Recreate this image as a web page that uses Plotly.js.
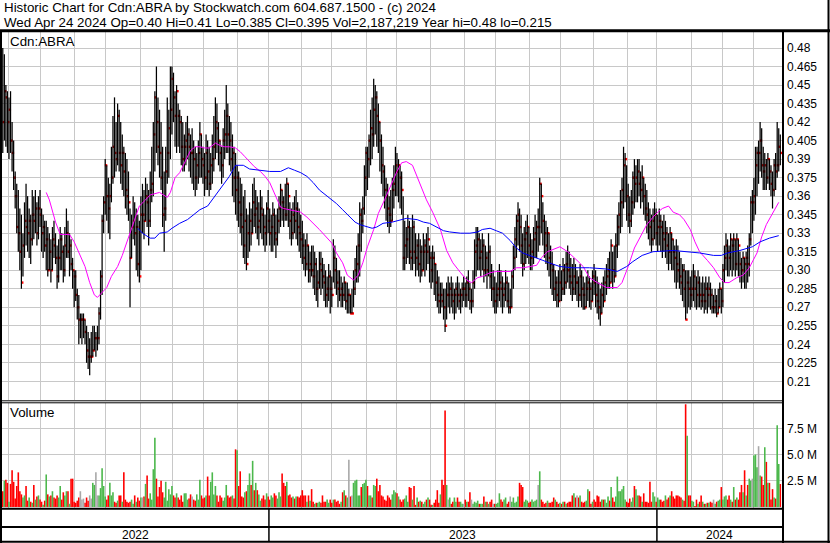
<!DOCTYPE html>
<html><head><meta charset="utf-8">
<script src="https://cdn.plot.ly/plotly-3.0.1.min.js"></script>
<style>html,body{margin:0;padding:0;background:#fff;}#chart{width:830px;height:543px;}</style>
</head><body><div id="chart"></div>
<script>
// ---------------- DATA ----------------
const firstDate = '2022-04-26';
const holidays = ['2022-05-23','2022-07-01','2022-08-01','2022-09-05','2022-10-10','2022-12-26','2022-12-27',
 '2023-01-02','2023-02-20','2023-04-07','2023-05-22','2023-07-03','2023-08-07','2023-09-04','2023-10-09','2023-12-25','2023-12-26',
 '2024-01-01','2024-02-19','2024-03-29'];

const high = [
.480,.475,.450,.445,.440,.445,.420,.405,.380,.370,
.365,.350,.345,.330,.355,.370,.360,.350,.345,.365,
.360,.365,.355,.360,.365,.350,.345,.340,.340,.335,
.330,.325,.335,.340,.330,.320,.325,.335,.330,.320,
.335,.350,.340,.330,.325,.310,.300,.300,.285,.280,
.265,.265,.265,.260,.255,.250,.245,.250,.255,.255,
.250,.255,.270,.300,.345,.360,.390,.385,.375,.370,
.400,.425,.440,.420,.435,.430,.420,.410,.400,.395,
.390,.380,.350,.345,.360,.355,.350,.345,.340,.360,
.370,.365,.375,.370,.365,.380,.400,.420,.445,.465,
.440,.430,.420,.400,.380,.400,.440,.430,.465,.465,
.460,.445,.450,.435,.430,.425,.420,.410,.420,.425,
.415,.410,.415,.405,.400,.395,.405,.420,.410,.400,
.395,.410,.405,.400,.395,.410,.425,.440,.435,.420,
.405,.400,.415,.430,.450,.435,.425,.420,.410,.400,
.395,.385,.380,.375,.370,.360,.365,.350,.345,.355,
.350,.370,.375,.365,.360,.355,.365,.360,.350,.345,
.355,.365,.350,.345,.355,.350,.345,.350,.360,.370,
.365,.360,.370,.375,.370,.355,.350,.355,.360,.365,
.355,.350,.345,.340,.330,.325,.330,.320,.315,.320,
.320,.315,.310,.300,.315,.315,.310,.305,.300,.295,
.305,.300,.295,.325,.320,.310,.300,.300,.295,.290,
.295,.290,.290,.285,.280,.285,.300,.310,.320,.330,
.355,.350,.360,.385,.400,.400,.410,.430,.440,.455,
.450,.445,.435,.420,.410,.400,.385,.375,.370,.360,
.365,.375,.385,.400,.395,.390,.385,.380,.360,.340,
.335,.345,.340,.335,.345,.340,.330,.325,.330,.325,
.320,.330,.325,.330,.335,.320,.315,.320,.315,.305,
.300,.295,.290,.290,.285,.285,.290,.295,.290,.295,
.290,.285,.290,.295,.290,.285,.290,.295,.290,.295,
.300,.290,.285,.300,.325,.335,.335,.330,.325,.330,
.325,.320,.315,.330,.320,.305,.300,.295,.290,.300,
.305,.300,.295,.290,.300,.295,.290,.285,.300,.320,
.335,.345,.355,.350,.345,.330,.335,.340,.345,.335,
.330,.325,.335,.345,.340,.350,.375,.370,.355,.345,
.340,.335,.330,.320,.315,.305,.300,.295,.300,.305,
.300,.310,.305,.315,.320,.315,.310,.305,.310,.305,
.300,.295,.305,.300,.295,.290,.295,.300,.295,.290,
.300,.305,.300,.295,.290,.285,.290,.295,.300,.305,
.310,.315,.325,.315,.320,.330,.345,.355,.365,.375,
.400,.395,.385,.370,.360,.365,.380,.390,.385,.390,
.390,.380,.385,.375,.370,.365,.355,.350,.345,.350,
.355,.350,.345,.350,.345,.340,.345,.340,.335,.330,
.335,.330,.325,.320,.325,.320,.315,.310,.305,.305,
.300,.300,.300,.295,.300,.305,.300,.295,.300,.295,
.290,.295,.290,.295,.290,.295,.290,.285,.280,.285,
.280,.285,.290,.285,.305,.320,.330,.325,.320,.330,
.325,.330,.325,.330,.325,.315,.310,.315,.310,.315,
.320,.330,.360,.365,.375,.400,.400,.405,.420,.415,
.400,.395,.390,.395,.390,.385,.380,.390,.395,.420,
.415,.410];

const low = [
.395,.405,.400,.395,.390,.395,.380,.365,.350,.330,
.315,.300,.285,.295,.310,.320,.315,.310,.305,.320,
.325,.330,.320,.325,.335,.315,.310,.315,.300,.295,
.300,.290,.300,.310,.305,.285,.290,.300,.300,.290,
.295,.310,.310,.295,.300,.285,.270,.275,.260,.240,
.245,.240,.245,.240,.225,.220,.215,.225,.230,.235,
.230,.235,.240,.260,.280,.330,.345,.340,.330,.325,
.355,.370,.375,.380,.385,.380,.370,.365,.360,.350,
.345,.340,.270,.310,.325,.320,.300,.295,.290,.300,
.330,.325,.340,.335,.320,.335,.355,.360,.380,.395,
.385,.375,.365,.335,.315,.340,.370,.375,.390,.410,
.420,.400,.395,.400,.395,.385,.380,.380,.385,.390,
.380,.375,.370,.365,.360,.365,.370,.375,.375,.370,
.360,.365,.365,.360,.365,.370,.380,.390,.395,.385,
.380,.370,.375,.390,.395,.395,.385,.380,.360,.355,
.345,.340,.335,.330,.320,.310,.305,.300,.310,.315,
.320,.330,.335,.330,.325,.320,.330,.325,.320,.315,
.320,.330,.320,.315,.315,.320,.310,.320,.330,.335,
.340,.335,.340,.340,.335,.325,.320,.325,.330,.325,
.320,.315,.310,.305,.300,.295,.300,.290,.290,.295,
.285,.280,.275,.270,.285,.280,.285,.275,.270,.270,
.275,.265,.270,.290,.285,.280,.270,.275,.270,.270,
.275,.268,.265,.265,.265,.265,.270,.280,.290,.290,
.295,.315,.330,.345,.360,.365,.375,.385,.390,.400,
.410,.400,.395,.380,.370,.360,.350,.340,.335,.330,
.335,.340,.350,.360,.360,.355,.350,.345,.300,.300,
.305,.310,.305,.300,.300,.305,.295,.300,.295,.290,
.295,.300,.295,.300,.305,.290,.285,.290,.280,.275,
.270,.265,.265,.270,.260,.250,.260,.270,.265,.270,
.265,.260,.265,.270,.268,.265,.270,.275,.270,.270,
.275,.268,.265,.270,.285,.295,.300,.300,.295,.300,
.290,.295,.285,.295,.285,.275,.270,.265,.265,.270,
.275,.270,.265,.270,.275,.270,.265,.265,.270,.285,
.300,.310,.320,.315,.305,.295,.300,.305,.310,.305,
.300,.300,.305,.310,.310,.315,.320,.330,.320,.310,
.305,.300,.295,.285,.280,.275,.275,.270,.270,.275,
.275,.280,.280,.285,.290,.285,.280,.275,.280,.280,
.275,.270,.275,.270,.268,.268,.270,.275,.270,.268,
.275,.280,.270,.265,.260,.255,.265,.270,.275,.280,
.285,.285,.290,.285,.290,.295,.310,.320,.330,.335,
.350,.355,.340,.335,.330,.335,.345,.350,.355,.355,
.360,.350,.355,.345,.340,.330,.325,.320,.315,.320,
.325,.320,.315,.320,.315,.310,.315,.310,.305,.300,
.305,.300,.300,.290,.285,.290,.285,.280,.275,.270,
.260,.265,.270,.268,.270,.275,.270,.268,.270,.270,
.268,.270,.265,.268,.265,.270,.268,.265,.265,.265,
.262,.265,.270,.265,.270,.290,.300,.295,.295,.300,
.295,.300,.295,.300,.295,.290,.285,.290,.285,.285,
.290,.295,.320,.330,.340,.345,.360,.370,.380,.375,
.365,.365,.365,.370,.365,.360,.350,.360,.365,.375,
.380,.385];

const close = [
.420,.445,.440,.420,.430,.405,.395,.375,.360,.335,
.330,.315,.290,.320,.340,.335,.330,.340,.325,.345,
.340,.350,.330,.350,.345,.330,.335,.320,.325,.300,
.315,.300,.325,.320,.310,.295,.310,.325,.315,.300,
.320,.330,.315,.320,.305,.300,.295,.280,.270,.260,
.260,.260,.260,.250,.235,.230,.230,.230,.235,.245,
.245,.245,.265,.295,.340,.355,.385,.360,.350,.360,
.375,.400,.395,.390,.425,.395,.385,.395,.380,.365,
.360,.355,.310,.335,.340,.330,.335,.305,.295,.345,
.345,.340,.360,.355,.340,.365,.370,.410,.440,.420,
.400,.395,.375,.345,.350,.380,.395,.415,.430,.455,
.440,.425,.445,.425,.420,.400,.390,.400,.405,.410,
.400,.395,.395,.390,.375,.385,.395,.410,.390,.385,
.375,.395,.380,.370,.385,.390,.400,.420,.415,.405,
.395,.385,.405,.410,.425,.410,.405,.390,.395,.375,
.365,.375,.355,.345,.335,.320,.340,.305,.330,.340,
.330,.355,.345,.350,.335,.340,.350,.345,.335,.330,
.350,.340,.330,.335,.345,.330,.325,.340,.350,.365,
.355,.350,.345,.370,.360,.340,.330,.345,.340,.350,
.335,.330,.325,.320,.310,.305,.320,.300,.305,.300,
.295,.305,.285,.290,.305,.300,.295,.290,.280,.285,
.295,.285,.280,.310,.300,.290,.285,.280,.285,.280,
.290,.275,.280,.280,.265,.265,.285,.300,.305,.320,
.345,.340,.350,.375,.395,.390,.405,.415,.410,.430,
.440,.425,.420,.405,.385,.380,.365,.360,.350,.345,
.340,.365,.370,.385,.380,.385,.375,.365,.310,.320,
.325,.335,.315,.310,.335,.315,.310,.320,.305,.315,
.300,.315,.320,.315,.325,.310,.300,.310,.305,.290,
.280,.275,.280,.275,.270,.255,.280,.280,.285,.280,
.275,.280,.285,.280,.275,.280,.285,.285,.280,.290,
.285,.275,.275,.290,.315,.320,.325,.310,.315,.320,
.300,.310,.300,.315,.295,.285,.285,.275,.280,.285,
.290,.285,.280,.285,.290,.275,.270,.270,.295,.310,
.325,.340,.345,.335,.320,.305,.325,.330,.335,.320,
.310,.315,.325,.330,.335,.335,.370,.360,.340,.330,
.320,.330,.310,.305,.300,.285,.290,.280,.275,.290,
.285,.300,.290,.305,.300,.295,.290,.285,.295,.290,
.290,.280,.295,.285,.280,.270,.285,.290,.285,.275,
.295,.290,.280,.275,.270,.265,.280,.275,.290,.295,
.300,.290,.320,.300,.295,.320,.335,.345,.355,.365,
.385,.390,.360,.345,.340,.355,.375,.370,.375,.380,
.370,.365,.375,.360,.350,.345,.340,.335,.325,.340,
.345,.330,.335,.340,.335,.330,.325,.330,.320,.315,
.330,.325,.315,.310,.305,.300,.295,.290,.300,.285,
.260,.290,.285,.280,.285,.295,.285,.280,.290,.280,
.275,.280,.275,.285,.280,.285,.280,.270,.270,.275,
.265,.270,.285,.275,.300,.310,.320,.315,.310,.325,
.320,.325,.305,.325,.320,.305,.300,.310,.305,.310,
.305,.325,.355,.355,.360,.385,.395,.395,.405,.385,
.380,.385,.375,.390,.380,.370,.365,.385,.380,.385,
.400,.395];

// volume, millions of shares
const volumeM = [
1.5,2.5,2.6,2.3,0.5,2.2,3.5,2.4,0.8,2.0, 3.3,1.5,1.2,0.9,1.1,2.0,0.6,0.9,0.5,0.4,
2.1,0.7,1.0,1.1,0.7,0.5,0.2,0.6,3.1,1.2, 1.0,1.1,1.5,0.9,0.8,1.1,0.9,2.0,0.7,1.4,
1.1,1.5,1.5,0.3,2.7,2.7,0.5,0.4,0.6,0.9, 1.5,0.7,0.8,0.4,0.9,0.6,1.1,0.8,2.3,2.1,
3.3,1.1,1.1,1.8,3.7,2.0,1.0,0.7,1.1,2.3, 1.1,1.4,0.5,0.4,0.6,1.1,1.1,0.5,3.3,0.7,
0.5,0.4,0.5,0.7,0.3,1.1,0.5,0.9,0.6,0.9, 0.9,1.0,2.2,3.0,0.8,1.3,0.7,3.6,
6.6,
2.7,1.0,1.9,2.5,1.4,0.9,2.4,0.6,1.7,1.2, 2.0,1.1,0.9,1.3,0.9,0.7,1.1,0.5,1.3,1.3,
0.7,0.8,1.2,1.0,0.7,0.6,1.2,0.7,2.6,1.1, 0.8,0.9,1.1,2.9,1.1,2.4,3.3,1.2,2.0,1.1,
0.5,1.1,0.9,0.6,0.9,2.1,1.1,0.9,1.0,1.1,0.8,
5.5,5.4,
2.0,3.4,1.0,0.9,1.4,1.5,2.1,3.2,2.1,4.4,
1.6,2.3,1.6,1.2,0.6,0.8,1.1,0.7,1.3,1.0,0.7,1.1,0.9,1.3,1.1,0.8,1.4,1.0,3.2,
2.3,2.0,2.4,1.1,1.2,0.9,1.0,0.8,1.0,1.0, 0.9,1.1,1.6,1.1,1.1,0.5,1.1,0.6,1.7,0.5,
0.3,0.4,0.4,0.5,0.4,1.1,0.5,0.5,0.7,0.4, 0.7,0.4,0.7,0.7,0.5,0.6,0.3,0.5,1.4,1.6,
1.1,0.9,
4.5,
1.0,1.1,2.3,2.5,2.6,1.1,1.1,1.9,2.2,2.3, 2.6,2.0,1.1,1.1,0.9,2.1,2.0,2.7,1.5,2.1,
1.1,1.0,0.7,0.6,1.1,0.9,0.7,1.2,1.6,1.4, 1.3,1.0,0.7,0.5,0.7,0.8,1.1,0.5,
1.9,1.8,0.7,2.0,0.2,0.9,0.5,0.6,0.5,0.3, 0.5,0.7,0.9,0.7,0.2,0.2,0.4,0.7,1.6,0.4,
1.2,2.6,2.1,
9.2,
2.1,0.7,0.9,0.3,0.5,0.9,0.5,0.9,0.5,0.5, 0.3,0.3,0.7,0.5,0.5,1.4,0.7,0.3,0.5,0.4,
0.6,0.3,0.3,0.3,1.0,0.5,0.5,0.3,0.5,0.7, 0.3,0.3,0.3,0.4,1.3,0.7,0.5,0.7,0.9,0.3,
0.5,1.0,0.5,0.9,0.4,0.5,1.0,
2.3,2.1,1.9,0.5,0.7,0.6,0.4,0.5,0.7,0.5, 0.6,0.7,2.1,3.4,0.7,0.5,0.3,0.4,0.6,0.4,
0.4,0.5,0.9,0.7,0.5,0.3,0.4,0.3,0.5,0.5, 0.3,0.4,0.5,0.5,1.1,1.3,0.9,1.1,0.9,1.1,
0.5,0.4,0.5,0.6,1.7,1.5,
0.3,0.5,0.7,0.5,1.1,1.0,0.5,0.7,0.7,0.7, 0.4,1.0,0.6,1.9,0.9,0.5,1.0,2.9,1.5,1.5,
1.7,2.0,0.7,0.5,0.4,0.8,0.5,0.9,2.0,1.7, 1.1,1.1,1.0,0.5,1.3,0.5,0.5,0.4,2.4,0.5,
1.4,1.0,0.5,0.9,0.7,0.7,0.5,0.6,1.1,0.7, 0.9,1.1,1.5,1.0,0.8,1.1,1.1,1.0,0.9,0.7,
0.6,
9.8,6.8,
1.1,1.1,0.6,0.5,0.1,0.7,0.3,0.5,1.1,0.5, 0.3,0.3,0.4,0.4,0.5,0.4,0.7,0.3,0.5,0.6,
0.7,1.9,0.7,1.0,1.1,0.7,1.1,0.7,0.5,1.9, 0.7,0.9,0.7,1.4,2.1,1.4,3.5,1.1,2.1,2.7,
2.5,2.7,4.9,5.0,3.8,5.8,3.0,2.9,2.1,5.7, 4.3,2.3,2.3,0.7,1.7,0.9,0.8,7.8,4.1,2.19];

// moving averages (bar index, price)
const fastIdx = [28,30,34,37,40,43,46,50,53,56,59,61,64,67,70,74,77,80,83,85,88,92,95,101,106,108,111,114,117,121,
 124,127,130,133,137,140,143,146,150,153,156,159,162,166,169,172,175,179,181,185,192,196,200,204,212,215,219,222,226,229,
 232,235,239,242,246,248,251,254,257,260,264,267,270,273,277,280,282,286,290,295,299,302,306,309,314,318,322,327,331,335,
 340,344,347,351,359,364,370,374,378,383,389,396,399,403,407,412,415,419,422,425,429,432,436,439,443,446,449,454,458,462,
 465,468,473,477,481,486,489,492,496,500];
const fastVal = [.363,.357,.339,.329,.329,.329,.323,.312,.303,.290,.280,.278,.282,.286,.295,.303,.312,.323,.334,.342,
 .352,.357,.361,.363,.359,.363,.375,.379,.387,.397,.400,.400,.399,.399,.403,.401,.400,.400,.399,.396,
 .392,.388,.384,.380,.376,.371,.363,.351,.350,.349,.347,.343,.338,.333,.322,.314,.306,.296,.292,.296,
 .306,.319,.333,.346,.357,.363,.371,.380,.387,.388,.385,.376,.367,.357,.347,.338,.333,.316,.306,.298,
 .292,.290,.294,.295,.298,.299,.299,.299,.302,.302,.303,.304,.310,.315,.319,.315,.308,.303,.294,.290,
 .286,.286,.290,.303,.318,.330,.337,.343,.347,.350,.352,.347,.345,.341,.333,.323,.315,.308,.302,.294,
 .290,.290,.294,.296,.302,.314,.327,.337,.346,.355];
const slowIdx = [87,90,95,98,101,106,109,114,119,123,127,132,135,138,142,146,150,155,159,166,
 172,179,184,188,192,196,200,204,210,215,219,224,227,230,235,238,241,245,251,257,
 260,267,271,275,280,284,288,295,301,306,309,314,318,322,327,331,335,342,348,352,
 359,367,378,389,396,402,406,412,419,432,441,449,458,463,467,475,483,488,494,500];
const slowVal = [.334,.330,.326,.326,.330,.331,.334,.338,.341,.345,.349,.352,.357,.362,.369,.376,.385,.385,.382,.381,
 .380,.380,.383,.381,.379,.376,.371,.365,.359,.354,.349,.343,.339,.337,.335,.334,.335,.338,.339,.341,
 .342,.341,.339,.338,.335,.332,.331,.330,.330,.331,.333,.334,.332,.330,.324,.318,.314,.311,.308,.306,
 .303,.302,.302,.301,.299,.303,.307,.312,.315,.316,.315,.314,.312,.312,.314,.316,.319,.323,.326,.328];

const priceTicks = [0.48,0.465,0.45,0.435,0.42,0.405,0.39,0.375,0.36,0.345,0.33,0.315,0.30,0.285,0.27,0.255,0.24,0.225,0.21];
const priceTickText = ['0.48','0.465','0.45','0.435','0.42','0.405','0.39','0.375','0.36','0.345','0.33','0.315','0.30','0.285','0.27','0.255','0.24','0.225','0.21'];
const volTicks = [2.5,5.0,7.5];
const volTickText = ['2.5 M','5.0 M','7.5 M'];
const symbolLabel = 'Cdn:ABRA';
const titleLine1 = 'Historic Chart for Cdn:ABRA by Stockwatch.com 604.687.1500 - (c) 2024';
const titleLine2 = 'Wed Apr 24 2024 Op=0.40 Hi=0.41 Lo=0.385 Cl=0.395 Vol=2,187,219 Year hi=0.48 lo=0.215';

// ---------------- BUILD ----------------
const N = close.length;
function tradingDates(start, n, hol) {
  const out = [], hs = new Set(hol);
  const d = new Date(start + 'T00:00:00Z');
  while (out.length < n) {
    const w = d.getUTCDay(), s = d.toISOString().slice(0, 10);
    if (w !== 0 && w !== 6 && !hs.has(s)) out.push(s);
    d.setUTCDate(d.getUTCDate() + 1);
  }
  return out;
}
const dates = tradingDates(firstDate, N, holidays);
const monthLines = [], yearLines = [];
for (let i = 1; i < N; i++) {
  if (dates[i].slice(0, 7) !== dates[i - 1].slice(0, 7)) monthLines.push(i - 0.5);
  if (dates[i].slice(0, 4) !== dates[i - 1].slice(0, 4)) yearLines.push(i - 0.5);
}
const X0 = -0.5, X1 = 502.1;
const yearBounds = [X0, ...yearLines, X1];
const yearLabels = [];
for (let k = 0; k < yearBounds.length - 1; k++) {
  const mid = (yearBounds[k] + yearBounds[k + 1]) / 2;
  yearLabels.push({ x: mid, text: dates[Math.max(0, Math.ceil(yearBounds[k] + 0.5))].slice(0, 4) });
}

const segX = [], segY = [];
for (let i = 0; i < N; i++) { segX.push(i, i, null); segY.push(low[i], high[i], null); }
// close tick sits just right of its bar, drawn underneath the bars
const closeX = close.map((_, i) => i + 0.55);

const vg = { up: { x: [], y: [] }, down: { x: [], y: [] }, flat: { x: [], y: [] } };
for (let i = 0; i < N; i++) {
  const v = volumeM[i] || 0;
  let k = 'down';
  if (i > 0) k = close[i] > close[i - 1] ? 'up' : (close[i] < close[i - 1] ? 'down' : 'flat');
  vg[k].x.push(i, i, null); vg[k].y.push(0, v, null);
}

const W = 830, H = 543;
const px = v => v / W, py = v => 1 - v / H;
const FONT = 'Liberation Sans, Arial, Helvetica, sans-serif';
const GRID = '#c8c8c8';

const traces = [
  { type: 'scatter', mode: 'markers', x: closeX, y: close, marker: { symbol: 'square', size: 2.4, color: '#ff0000', line: { width: 0 } }, hoverinfo: 'skip', xaxis: 'x', yaxis: 'y' },
  { type: 'scatter', mode: 'lines', x: segX, y: segY, line: { color: '#000', width: 1.25 }, hoverinfo: 'skip', xaxis: 'x', yaxis: 'y' },
  { type: 'scatter', mode: 'lines', x: fastIdx, y: fastVal, line: { color: '#ff00ff', width: 1 }, hoverinfo: 'skip', xaxis: 'x', yaxis: 'y' },
  { type: 'scatter', mode: 'lines', x: slowIdx, y: slowVal, line: { color: '#0000ff', width: 1 }, hoverinfo: 'skip', xaxis: 'x', yaxis: 'y' },
  { type: 'scatter', mode: 'lines', x: vg.down.x, y: vg.down.y, line: { color: '#ff0000', width: 1.6 }, hoverinfo: 'skip', xaxis: 'x2', yaxis: 'y2' },
  { type: 'scatter', mode: 'lines', x: vg.up.x, y: vg.up.y, line: { color: '#4cb84c', width: 1.6 }, hoverinfo: 'skip', xaxis: 'x2', yaxis: 'y2' },
  { type: 'scatter', mode: 'lines', x: vg.flat.x, y: vg.flat.y, line: { color: '#a8a8a8', width: 1.6 }, hoverinfo: 'skip', xaxis: 'x2', yaxis: 'y2' }
];

const xCommon = { range: [X0, X1], tickvals: monthLines, showticklabels: false, ticks: '', showgrid: true, gridcolor: GRID, gridwidth: 1, zeroline: false, showline: false, fixedrange: true };
const shapes = [];
function hline(y, x0, x1, w) { shapes.push({ type: 'line', xref: 'paper', yref: 'paper', x0: px(x0), x1: px(x1), y0: py(y), y1: py(y), line: { color: '#000', width: w } }); }
function vline(x, y0, y1, w) { shapes.push({ type: 'line', xref: 'paper', yref: 'paper', x0: px(x), x1: px(x), y0: py(y0), y1: py(y1), line: { color: '#000', width: w } }); }
hline(30.8, 0, 830, 3);
vline(1, 30, 543, 2);
vline(783, 30, 543, 2);
vline(828.5, 0, 543, 2);
hline(541.8, 0, 830, 2);
hline(400.8, 0, 783, 1);
hline(402.8, 0, 783, 1);
hline(508.8, 0, 783, 2);
hline(527, 0, 783, 2);
yearLines.forEach(v => shapes.push({ type: 'line', xref: 'x', yref: 'paper', x0: v, x1: v, y0: py(509), y1: py(542), line: { color: '#000', width: 1.5 } }));

const BIG = 13.33;
const annotations = [
  { text: titleLine1, x: px(2), y: py(8), xref: 'paper', yref: 'paper', xanchor: 'left', yanchor: 'middle', showarrow: false, font: { size: BIG, family: FONT, color: '#000' } },
  { text: titleLine2, x: px(2), y: py(22), xref: 'paper', yref: 'paper', xanchor: 'left', yanchor: 'middle', showarrow: false, font: { size: BIG, family: FONT, color: '#000' } },
  { text: symbolLabel, x: px(8), y: py(41), xref: 'paper', yref: 'paper', xanchor: 'left', yanchor: 'middle', showarrow: false, font: { size: BIG, family: FONT, color: '#000' } },
  { text: 'Volume', x: px(8), y: py(413), xref: 'paper', yref: 'paper', xanchor: 'left', yanchor: 'middle', showarrow: false, font: { size: BIG, family: FONT, color: '#000' } }
];
yearLabels.forEach(o => annotations.push({ text: o.text, x: o.x, y: py(534.5), xref: 'x', yref: 'paper', xanchor: 'center', yanchor: 'middle', showarrow: false, font: { size: 12, family: FONT, color: '#000' } }));

const layout = {
  width: W, height: H, margin: { l: 0, r: 0, t: 0, b: 0, pad: 0 },
  paper_bgcolor: '#fff', plot_bgcolor: '#fff', showlegend: false,
  font: { family: FONT, size: 12, color: '#000' },
  xaxis: Object.assign({ domain: [px(2), px(782)], anchor: 'y' }, xCommon),
  xaxis2: Object.assign({ domain: [px(2), px(782)], anchor: 'y2', matches: 'x' }, xCommon),
  yaxis: { domain: [py(400), py(32)], range: [0.19489, 0.49296], side: 'right', anchor: 'x', tickvals: priceTicks, ticktext: priceTickText,
    showgrid: true, gridcolor: GRID, gridwidth: 1, zeroline: false, showline: false, ticks: '', ticklabelstandoff: 4, automargin: false, fixedrange: true,
    tickfont: { size: 12, family: FONT, color: '#000' } },
  yaxis2: { domain: [py(508), py(403)], range: [-0.1, 9.92], side: 'right', anchor: 'x2', tickvals: volTicks, ticktext: volTickText,
    showgrid: true, gridcolor: GRID, gridwidth: 1, zeroline: false, showline: false, ticks: '', ticklabelstandoff: 4, automargin: false, fixedrange: true,
    tickfont: { size: 12, family: FONT, color: '#000' } },
  shapes: shapes, annotations: annotations
};
Plotly.newPlot('chart', traces, layout, { staticPlot: true, displayModeBar: false });
</script>
</body></html>
